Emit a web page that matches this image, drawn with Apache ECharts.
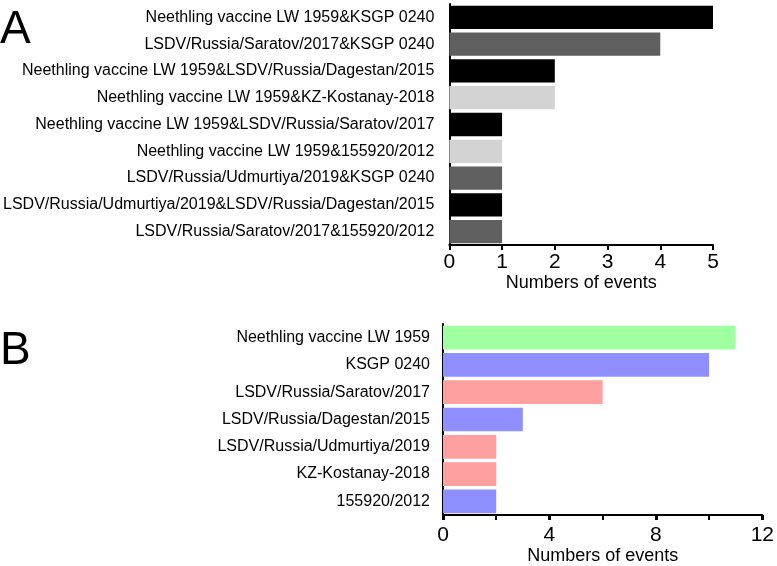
<!DOCTYPE html>
<html><head><meta charset="utf-8">
<script src="https://cdn.jsdelivr.net/npm/echarts@6/dist/echarts.min.js"></script>
<style>html,body{margin:0;padding:0;background:#fff}#c{width:777px;height:566px}</style>
</head><body><div id="c"></div>
<script>
var catsA = ["Neethling vaccine LW 1959&KSGP 0240","LSDV/Russia/Saratov/2017&KSGP 0240","Neethling vaccine LW 1959&LSDV/Russia/Dagestan/2015","Neethling vaccine LW 1959&KZ-Kostanay-2018","Neethling vaccine LW 1959&LSDV/Russia/Saratov/2017","Neethling vaccine LW 1959&155920/2012","LSDV/Russia/Udmurtiya/2019&KSGP 0240","LSDV/Russia/Udmurtiya/2019&LSDV/Russia/Dagestan/2015","LSDV/Russia/Saratov/2017&155920/2012"];
var valsA = [5,4,2,2,1,1,1,1,1];
var colorsA = ["#000000","#5f5f5f","#000000","#d3d3d3","#000000","#d3d3d3","#5f5f5f","#000000","#5f5f5f"];
var catsB = ["Neethling vaccine LW 1959","KSGP 0240","LSDV/Russia/Saratov/2017","LSDV/Russia/Dagestan/2015","LSDV/Russia/Udmurtiya/2019","KZ-Kostanay-2018","155920/2012"];
var valsB = [11,10,6,3,2,2,2];
var colorsB = ["#a0ffa0","#8f8fff","#ffa0a0","#8f8fff","#ffa0a0","#ffa0a0","#8f8fff"];
var ticksA = [0,1,2,3,4,5];
var ticksB = [0,4,8,12];

var FF = "'Liberation Sans',Arial,sans-serif";
var chart = echarts.init(document.getElementById('c'), null, {renderer:'canvas'});
function catAxis(cats, idx, margin){
  return {type:'category', gridIndex:idx, data:cats, inverse:true,
    axisLine:{lineStyle:{color:'#000',width:2}},
    axisTick:{alignWithLabel:true, length:5, lineStyle:{color:'#000',width:2}},
    axisLabel:{color:'#000', fontSize:16, fontFamily:FF, margin:margin}};
}
function valAxis(idx, max, interval, minor, margin, gap){
  return {type:'value', gridIndex:idx, min:0, max:max, interval:interval,
    name:'Numbers of events', nameLocation:'middle', nameGap:gap,
    nameTextStyle:{color:'#000', fontSize:18, fontFamily:FF},
    axisLine:{show:true, lineStyle:{color:'#000',width:2}},
    axisTick:{show:true, length:5, lineStyle:{color:'#000',width:idx===1?3:2}},
    minorTick:{show:minor, splitNumber:2, length:5, lineStyle:{color:'#000',width:2}},
    splitLine:{show:false},
    axisLabel:{color:'#000', fontSize:21, fontFamily:FF, margin:margin,
      formatter:function(v){return String(v);}}};
}
chart.setOption({
  animation:false,
  grid:[{left:445, right:64, top:4, bottom:321},
        {left:443, right:12.5, top:324, bottom:51}],
  xAxis:[valAxis(0,ticksA[ticksA.length-1],1,false,7,29), valAxis(1,ticksB[ticksB.length-1],4,true,10,31)],
  yAxis:[catAxis(catsA,0,15), catAxis(catsB,1,13)],
  series:[
    {type:'bar', xAxisIndex:0, yAxisIndex:0, barCategoryGap:'13%',
     data:valsA.map(function(v,i){return {value:v, itemStyle:{color:colorsA[i]}};})},
    {type:'bar', xAxisIndex:1, yAxisIndex:1, barCategoryGap:'13%',
     data:valsB.map(function(v,i){return {value:v, itemStyle:{color:colorsB[i]}};})}
  ],
  graphic:[
    {type:'text', left:0, top:7, style:{text:'A', fontSize:46, fontFamily:FF, fill:'#000'}},
    {type:'text', left:0, top:328, style:{text:'B', fontSize:46, fontFamily:FF, fill:'#000'}}
  ]
});
</script></body></html>
